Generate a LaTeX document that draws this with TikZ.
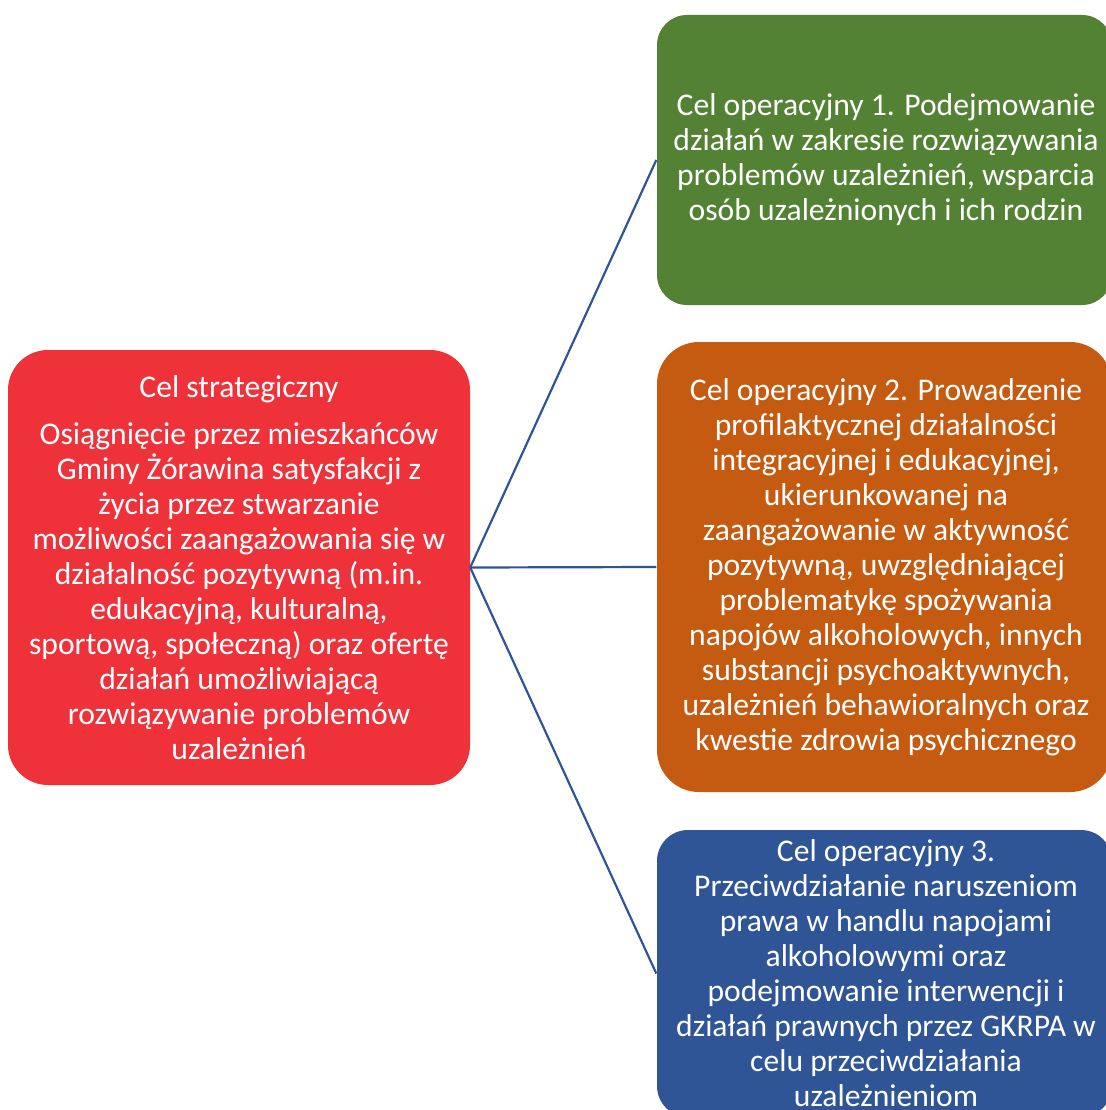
\documentclass[tikz,border=0pt]{standalone}
\usepackage{fontspec}
\setmainfont{Carlito}
\definecolor{cred}{HTML}{EF323A}
\definecolor{cgreen}{HTML}{548235}
\definecolor{corange}{HTML}{C55A11}
\definecolor{cblue}{HTML}{2F5597}
\definecolor{cline}{HTML}{2F5597}
\begin{document}
\begin{tikzpicture}[x=1pt,y=-1pt,
  goal/.style={text=white, align=center, inner sep=0pt,
    font=\fontsize{31.6}{35}\selectfont},
  link/.style={draw=cline, line width=2.2pt}]
\useasboundingbox (0,0) rectangle (1105,1110);
\fill[cred, rounded corners=40pt] (8,350) rectangle (470,785);
\fill[cgreen, rounded corners=30pt] (657,15) rectangle (1112,305);
\fill[corange, rounded corners=42pt] (657,342) rectangle (1112,792);
\fill[cblue, rounded corners=31pt] (657,830) rectangle (1112,1117);
\node[goal, minimum width=462pt, minimum height=435pt] (red) at (239,567.5) {Cel strategiczny\\[12pt]
Osiągnięcie przez mieszkańców\\Gminy Żórawina satysfakcji z\\życia przez stwarzanie\\możliwości zaangażowania się w\\działalność pozytywną (m.in.\\edukacyjną, kulturalną,\\sportową, społeczną) oraz ofertę\\działań umożliwiającą\\rozwiązywanie problemów\\uzależnień};
\node[goal, minimum width=455pt, minimum height=290pt] (green) at (886,160) {Cel operacyjny 1. Podejmowanie\\działań w zakresie rozwiązywania\\problemów uzależnień, wsparcia\\osób uzależnionych i ich rodzin};
\node[goal, minimum width=455pt, minimum height=450pt] (orange) at (886,567) {Cel operacyjny 2. Prowadzenie\\profilaktycznej działalności\\integracyjnej i edukacyjnej,\\ukierunkowanej na\\zaangażowanie w aktywność\\pozytywną, uwzględniającej\\problematykę spożywania\\napojów alkoholowych, innych\\substancji psychoaktywnych,\\uzależnień behawioralnych oraz\\kwestie zdrowia psychicznego};
\node[goal, minimum width=455pt, minimum height=287pt] (blue) at (886,973.5) {Cel operacyjny 3.\\Przeciwdziałanie naruszeniom\\prawa w handlu napojami\\alkoholowymi oraz\\podejmowanie interwencji i\\działań prawnych przez GKRPA w\\celu przeciwdziałania\\uzależnieniom};
\draw[link] (red.east) -- ([xshift=-2pt]green.west);
\draw[link] (red.east) -- ([xshift=-2pt]orange.west);
\draw[link] (red.east) -- ([xshift=-2pt]blue.west);
\end{tikzpicture}
\end{document}
